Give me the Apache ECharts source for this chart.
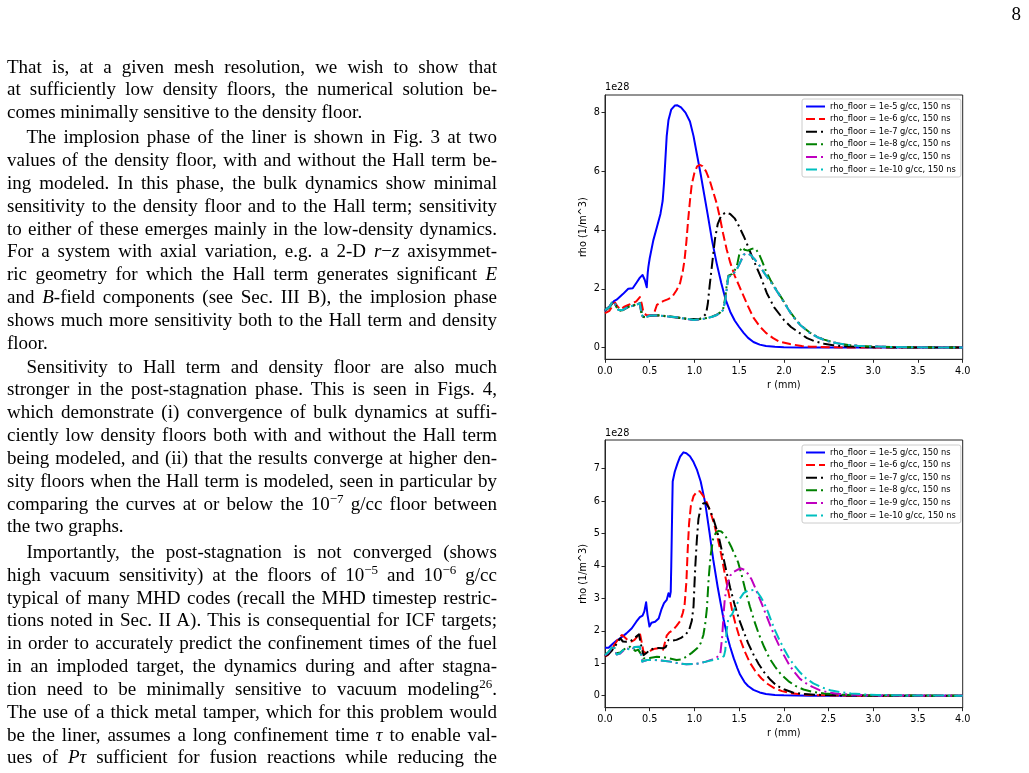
<!DOCTYPE html>
<html>
<head>
<meta charset="utf-8">
<script src="https://cdn.jsdelivr.net/npm/echarts@6/dist/echarts.min.js"></script>
<style>
html,body{margin:0;padding:0;background:#fff;}
#page{position:relative;width:1029px;height:773px;overflow:hidden;background:#fff;}
#chart{position:absolute;left:0;top:0;width:1029px;height:773px;z-index:1;}
#text{position:absolute;left:7px;top:55.5px;width:490px;z-index:2;font-family:'Liberation Serif','Times New Roman',serif;font-size:19px;line-height:22.85px;color:#000;}
.l{white-space:nowrap;text-align:justify;text-align-last:justify;height:22.85px;}
.e{text-align-last:left;}
.i{text-indent:19.5px;}
#pnum{position:absolute;right:8px;top:3px;z-index:2;font-family:'Liberation Serif','Times New Roman',serif;font-size:19px;color:#000;}
sup{font-size:13px;line-height:0;vertical-align:7px;}
</style>
</head>
<body>
<div id="page">
<div id="chart"></div>
<div id="pnum">8</div>
<div id="text">
<div class="l">That is, at a given mesh resolution, we wish to show that</div>
<div class="l">at sufficiently low density floors, the numerical solution be-</div>
<div class="l e">comes minimally sensitive to the density floor.</div>
<div class="l i" style="margin-top:2.1px">The implosion phase of the liner is shown in Fig. 3 at two</div>
<div class="l">values of the density floor, with and without the Hall term be-</div>
<div class="l">ing modeled. In this phase, the bulk dynamics show minimal</div>
<div class="l">sensitivity to the density floor and to the Hall term; sensitivity</div>
<div class="l">to either of these emerges mainly in the low-density dynamics.</div>
<div class="l">For a system with axial variation, e.g. a 2-D <i>r</i>−<i>z</i> axisymmet-</div>
<div class="l">ric geometry for which the Hall term generates significant <i>E</i></div>
<div class="l">and <i>B</i>-field components (see Sec. III B), the implosion phase</div>
<div class="l">shows much more sensitivity both to the Hall term and density</div>
<div class="l e">floor.</div>
<div class="l i" style="margin-top:1px">Sensitivity to Hall term and density floor are also much</div>
<div class="l">stronger in the post-stagnation phase. This is seen in Figs. 4,</div>
<div class="l">which demonstrate (i) convergence of bulk dynamics at suffi-</div>
<div class="l">ciently low density floors both with and without the Hall term</div>
<div class="l">being modeled, and (ii) that the results converge at higher den-</div>
<div class="l">sity floors when the Hall term is modeled, seen in particular by</div>
<div class="l">comparing the curves at or below the 10<sup>−7</sup> g/cc floor between</div>
<div class="l e">the two graphs.</div>
<div class="l i" style="margin-top:2.5px">Importantly, the post-stagnation is not converged (shows</div>
<div class="l">high vacuum sensitivity) at the floors of 10<sup>−5</sup> and 10<sup>−6</sup> g/cc</div>
<div class="l">typical of many MHD codes (recall the MHD timestep restric-</div>
<div class="l">tions noted in Sec. II A). This is consequential for ICF targets;</div>
<div class="l">in order to accurately predict the confinement times of the fuel</div>
<div class="l">in an imploded target, the dynamics during and after stagna-</div>
<div class="l">tion need to be minimally sensitive to vacuum modeling<sup>26</sup>.</div>
<div class="l">The use of a thick metal tamper, which for this problem would</div>
<div class="l">be the liner, assumes a long confinement time <i>τ</i> to enable val-</div>
<div class="l">ues of <i>Pτ</i> sufficient for fusion reactions while reducing the</div>
</div>
</div>
<script>
// ---------- DATA (r in mm, rho in units of 1e28 1/m^3) ----------
const seriesNames = [
  'rho_floor = 1e-5 g/cc, 150 ns',
  'rho_floor = 1e-6 g/cc, 150 ns',
  'rho_floor = 1e-7 g/cc, 150 ns',
  'rho_floor = 1e-8 g/cc, 150 ns',
  'rho_floor = 1e-9 g/cc, 150 ns',
  'rho_floor = 1e-10 g/cc, 150 ns'
];
const xTicks = [0, 0.5, 1, 1.5, 2, 2.5, 3, 3.5, 4];
const yTicksTop = [0, 2, 4, 6, 8];
const yTicksBottom = [0, 1, 2, 3, 4, 5, 6, 7];
const offsetText = '1e28';

// Top figure
const top1e5 = [[0,1.23],[0.05,1.4],[0.1,1.58],[0.13,1.63],[0.2,1.82],[0.26,2.0],[0.31,2.02],[0.35,2.2],[0.39,2.38],[0.42,2.47],[0.445,2.3],[0.467,2.05],[0.472,2.3],[0.478,2.55],[0.485,2.75],[0.5,3.04],[0.54,3.65],[0.58,4.1],[0.62,4.55],[0.645,5.0],[0.66,5.6],[0.675,6.4],[0.69,7.2],[0.71,7.75],[0.74,8.1],[0.78,8.24],[0.81,8.25],[0.85,8.18],[0.9,8.0],[0.95,7.7],[0.99,7.2],[1.03,6.55],[1.07,5.9],[1.11,5.2],[1.15,4.5],[1.2,3.6],[1.25,2.85],[1.3,2.2],[1.35,1.62],[1.4,1.22],[1.45,0.92],[1.5,0.7],[1.55,0.5],[1.6,0.33],[1.66,0.19],[1.73,0.1],[1.8,0.05],[1.9,0.025],[2.0,0.012],[2.2,0.004],[2.5,0],[3.0,0],[4.0,0]];
const top1e6 = [[0,1.17],[0.05,1.25],[0.09,1.45],[0.112,1.53],[0.14,1.4],[0.17,1.3],[0.21,1.38],[0.26,1.45],[0.3,1.5],[0.35,1.57],[0.39,1.72],[0.41,1.5],[0.43,1.2],[0.46,1.11],[0.5,1.1],[0.54,1.09],[0.56,1.15],[0.58,1.45],[0.6,1.51],[0.65,1.58],[0.7,1.64],[0.75,1.72],[0.8,1.95],[0.84,2.2],[0.87,2.6],[0.89,3.0],[0.91,3.6],[0.93,4.35],[0.95,5.0],[0.97,5.55],[1.0,5.95],[1.03,6.17],[1.06,6.22],[1.09,6.18],[1.13,6.0],[1.17,5.7],[1.21,5.3],[1.25,4.9],[1.29,4.35],[1.32,3.89],[1.36,3.35],[1.4,2.9],[1.45,2.45],[1.5,2.1],[1.55,1.75],[1.6,1.4],[1.66,1.02],[1.73,0.72],[1.8,0.5],[1.88,0.32],[1.95,0.2],[2.07,0.12],[2.2,0.05],[2.3,0.03],[2.5,0.01],[2.7,0.004],[3.0,0],[4.0,0]];
const top1e7 = [[0,1.28],[0.05,1.4],[0.09,1.55],[0.11,1.55],[0.14,1.35],[0.17,1.26],[0.21,1.3],[0.26,1.38],[0.3,1.42],[0.35,1.45],[0.39,1.5],[0.41,1.2],[0.42,1.06],[0.46,1.03],[0.5,1.08],[0.55,1.09],[0.62,1.09],[0.7,1.06],[0.8,1.02],[0.9,0.98],[1.0,0.97],[1.06,0.98],[1.1,1.05],[1.13,1.15],[1.15,1.5],[1.17,2.1],[1.2,2.9],[1.23,3.7],[1.26,4.2],[1.3,4.5],[1.35,4.6],[1.4,4.55],[1.45,4.4],[1.5,4.12],[1.55,3.8],[1.6,3.44],[1.65,3.05],[1.7,2.7],[1.74,2.42],[1.81,1.85],[1.89,1.38],[2.0,0.94],[2.08,0.7],[2.15,0.55],[2.26,0.32],[2.35,0.21],[2.45,0.13],[2.55,0.08],[2.65,0.05],[2.8,0.025],[3.0,0.01],[3.3,0.003],[4.0,0]];
const top1e8 = [[0,1.26],[0.05,1.36],[0.08,1.5],[0.1,1.55],[0.12,1.42],[0.15,1.27],[0.2,1.27],[0.24,1.35],[0.28,1.41],[0.32,1.44],[0.35,1.47],[0.39,1.52],[0.405,1.2],[0.42,1.05],[0.45,1.03],[0.5,1.08],[0.6,1.1],[0.7,1.07],[0.8,1.03],[0.9,0.99],[0.99,0.95],[1.07,0.97],[1.14,1.01],[1.2,1.06],[1.25,1.12],[1.29,1.2],[1.32,1.3],[1.345,1.7],[1.36,2.1],[1.38,2.45],[1.42,2.5],[1.45,2.62],[1.48,2.85],[1.51,3.3],[1.535,3.42],[1.56,3.33],[1.6,3.3],[1.64,3.36],[1.68,3.38],[1.72,3.2],[1.76,2.92],[1.8,2.6],[1.85,2.3],[1.91,2.0],[1.96,1.76],[2.02,1.47],[2.07,1.22],[2.13,0.97],[2.18,0.8],[2.24,0.63],[2.29,0.51],[2.37,0.37],[2.45,0.27],[2.54,0.19],[2.63,0.13],[2.72,0.09],[2.82,0.06],[3.0,0.035],[3.2,0.02],[3.4,0.01],[3.7,0.004],[4.0,0.002]];
const top1e9 = [[0,1.27],[0.05,1.38],[0.075,1.52],[0.1,1.56],[0.12,1.44],[0.15,1.28],[0.2,1.28],[0.24,1.35],[0.28,1.4],[0.32,1.43],[0.35,1.45],[0.39,1.51],[0.405,1.2],[0.42,1.06],[0.45,1.02],[0.5,1.09],[0.6,1.09],[0.7,1.06],[0.8,1.03],[0.9,0.98],[0.99,0.94],[1.07,0.96],[1.14,1.0],[1.2,1.05],[1.25,1.11],[1.29,1.18],[1.32,1.28],[1.345,1.6],[1.36,1.96],[1.38,2.42],[1.42,2.45],[1.44,2.53],[1.47,2.65],[1.49,2.76],[1.52,2.95],[1.55,3.16],[1.59,3.22],[1.63,3.15],[1.68,2.98],[1.73,2.78],[1.79,2.5],[1.85,2.25],[1.91,1.98],[1.96,1.74],[2.02,1.45],[2.07,1.2],[2.13,0.95],[2.18,0.78],[2.24,0.62],[2.29,0.5],[2.37,0.36],[2.45,0.26],[2.54,0.18],[2.63,0.13],[2.72,0.09],[2.82,0.06],[3.0,0.035],[3.2,0.02],[3.4,0.01],[3.7,0.004],[4.0,0.002]];
const top1e10 = [[0,1.28],[0.05,1.38],[0.075,1.53],[0.1,1.57],[0.12,1.45],[0.15,1.28],[0.2,1.28],[0.24,1.35],[0.28,1.4],[0.32,1.43],[0.35,1.45],[0.39,1.51],[0.405,1.2],[0.42,1.06],[0.45,1.02],[0.5,1.09],[0.6,1.09],[0.7,1.06],[0.8,1.03],[0.9,0.98],[0.99,0.94],[1.07,0.96],[1.14,1.0],[1.2,1.05],[1.25,1.11],[1.29,1.18],[1.32,1.28],[1.345,1.6],[1.36,1.96],[1.38,2.42],[1.42,2.45],[1.44,2.53],[1.47,2.65],[1.49,2.76],[1.52,2.95],[1.55,3.16],[1.59,3.21],[1.63,3.15],[1.68,2.98],[1.73,2.78],[1.79,2.5],[1.85,2.25],[1.91,1.98],[1.96,1.74],[2.02,1.45],[2.07,1.2],[2.13,0.95],[2.18,0.78],[2.24,0.62],[2.29,0.5],[2.37,0.36],[2.45,0.26],[2.54,0.18],[2.63,0.13],[2.72,0.09],[2.82,0.06],[3.0,0.035],[3.2,0.02],[3.4,0.01],[3.7,0.004],[4.0,0.002]];

// Bottom figure
const bot1e5 = [[0,1.48],[0.04,1.48],[0.09,1.61],[0.13,1.7],[0.17,1.77],[0.24,1.92],[0.3,2.08],[0.35,2.28],[0.39,2.42],[0.42,2.47],[0.44,2.6],[0.46,2.88],[0.475,2.5],[0.497,2.13],[0.52,2.25],[0.56,2.28],[0.6,2.38],[0.63,2.65],[0.66,2.85],[0.69,2.95],[0.71,3.16],[0.725,3.05],[0.735,3.2],[0.738,3.6],[0.741,4.0],[0.744,4.5],[0.747,5.0],[0.75,5.5],[0.753,6.0],[0.757,6.6],[0.78,6.9],[0.81,7.15],[0.84,7.37],[0.877,7.5],[0.91,7.47],[0.95,7.38],[0.99,7.2],[1.03,6.95],[1.07,6.6],[1.12,5.95],[1.17,5.0],[1.21,4.2],[1.26,3.35],[1.3,2.75],[1.33,2.3],[1.37,1.8],[1.4,1.5],[1.44,1.15],[1.48,0.85],[1.51,0.65],[1.56,0.42],[1.6,0.3],[1.66,0.18],[1.73,0.1],[1.8,0.055],[1.9,0.025],[2.0,0.01],[2.3,0.002],[2.6,0],[4,0]];
const bot1e6 = [[0,1.2],[0.03,1.25],[0.06,1.36],[0.1,1.55],[0.13,1.67],[0.16,1.8],[0.19,1.87],[0.22,1.8],[0.26,1.7],[0.3,1.67],[0.33,1.72],[0.36,1.82],[0.39,1.92],[0.41,1.65],[0.43,1.36],[0.47,1.3],[0.52,1.41],[0.56,1.45],[0.6,1.46],[0.65,1.42],[0.67,1.45],[0.69,1.85],[0.72,1.95],[0.76,2.02],[0.8,2.15],[0.84,2.3],[0.87,2.55],[0.89,2.8],[0.91,3.5],[0.925,4.5],[0.94,5.3],[0.96,5.85],[0.99,6.15],[1.03,6.3],[1.06,6.3],[1.1,6.15],[1.14,5.95],[1.18,5.65],[1.22,5.3],[1.26,4.85],[1.3,4.35],[1.34,3.75],[1.38,3.2],[1.42,2.65],[1.46,2.2],[1.51,1.75],[1.56,1.38],[1.62,1.02],[1.68,0.76],[1.75,0.53],[1.82,0.36],[1.9,0.22],[1.98,0.14],[2.07,0.08],[2.16,0.05],[2.3,0.02],[2.5,0.008],[2.8,0],[4,0]];
const bot1e7 = [[0,1.22],[0.04,1.28],[0.08,1.4],[0.11,1.51],[0.14,1.65],[0.17,1.77],[0.2,1.67],[0.24,1.66],[0.28,1.67],[0.32,1.75],[0.35,1.82],[0.38,1.89],[0.4,1.6],[0.43,1.25],[0.47,1.33],[0.5,1.41],[0.55,1.46],[0.6,1.47],[0.65,1.46],[0.68,1.5],[0.71,1.72],[0.76,1.7],[0.8,1.72],[0.85,1.78],[0.9,1.88],[0.94,2.02],[0.97,2.3],[0.99,2.75],[1.0,3.4],[1.01,4.0],[1.027,4.8],[1.045,5.45],[1.07,5.8],[1.1,5.93],[1.13,5.93],[1.16,5.8],[1.2,5.55],[1.24,5.2],[1.28,4.8],[1.32,4.3],[1.36,3.8],[1.4,3.32],[1.45,2.8],[1.5,2.35],[1.55,1.98],[1.6,1.62],[1.66,1.27],[1.72,0.97],[1.78,0.72],[1.85,0.49],[1.92,0.31],[2.0,0.2],[2.1,0.1],[2.2,0.06],[2.35,0.03],[2.6,0.01],[3.0,0],[4,0]];
const bot1e8 = [[0,1.25],[0.04,1.35],[0.07,1.45],[0.09,1.56],[0.11,1.45],[0.13,1.31],[0.17,1.33],[0.2,1.4],[0.24,1.48],[0.28,1.51],[0.31,1.45],[0.34,1.38],[0.37,1.42],[0.39,1.46],[0.41,1.25],[0.43,1.15],[0.5,1.16],[0.58,1.2],[0.65,1.19],[0.72,1.15],[0.8,1.1],[0.86,1.12],[0.91,1.2],[0.97,1.32],[1.03,1.46],[1.07,1.62],[1.1,1.87],[1.12,2.2],[1.14,2.7],[1.158,3.57],[1.18,4.3],[1.21,4.85],[1.24,5.02],[1.27,5.08],[1.3,5.06],[1.33,4.98],[1.37,4.82],[1.41,4.6],[1.45,4.35],[1.49,4.1],[1.53,3.7],[1.57,3.25],[1.62,2.75],[1.67,2.3],[1.72,1.9],[1.78,1.5],[1.84,1.15],[1.9,0.9],[1.97,0.65],[2.05,0.45],[2.13,0.3],[2.22,0.19],[2.32,0.12],[2.45,0.07],[2.6,0.035],[2.8,0.015],[3.1,0.005],[4,0]];
const bot1e9 = [[0,1.24],[0.04,1.33],[0.07,1.45],[0.09,1.56],[0.11,1.42],[0.13,1.27],[0.17,1.3],[0.2,1.38],[0.24,1.46],[0.27,1.44],[0.3,1.41],[0.33,1.5],[0.35,1.56],[0.39,1.51],[0.405,1.25],[0.42,1.05],[0.47,1.1],[0.55,1.1],[0.65,1.08],[0.73,1.05],[0.82,1.0],[0.91,0.97],[1.0,0.98],[1.06,1.0],[1.13,1.05],[1.2,1.12],[1.25,1.18],[1.29,1.3],[1.31,1.8],[1.326,2.5],[1.34,3.0],[1.37,3.45],[1.4,3.7],[1.44,3.82],[1.48,3.88],[1.52,3.92],[1.56,3.88],[1.6,3.75],[1.64,3.58],[1.68,3.32],[1.72,3.05],[1.76,2.78],[1.8,2.5],[1.85,2.15],[1.9,1.82],[1.95,1.52],[2.0,1.25],[2.06,0.95],[2.12,0.72],[2.18,0.52],[2.25,0.38],[2.32,0.27],[2.4,0.17],[2.5,0.1],[2.6,0.06],[2.75,0.03],[3.0,0.01],[3.4,0.003],[4,0]];
const bot1e10 = [[0,1.25],[0.04,1.35],[0.07,1.46],[0.09,1.56],[0.11,1.42],[0.13,1.27],[0.17,1.31],[0.2,1.4],[0.24,1.46],[0.27,1.43],[0.3,1.41],[0.33,1.5],[0.35,1.56],[0.39,1.51],[0.405,1.25],[0.415,1.05],[0.47,1.1],[0.58,1.1],[0.73,1.05],[0.82,1.0],[0.91,0.97],[1.0,0.98],[1.06,1.0],[1.13,1.05],[1.21,1.1],[1.29,1.15],[1.33,1.22],[1.345,1.4],[1.36,2.0],[1.38,2.4],[1.42,2.5],[1.45,2.7],[1.48,2.85],[1.51,3.0],[1.55,3.16],[1.6,3.24],[1.66,3.26],[1.7,3.21],[1.74,3.05],[1.78,2.85],[1.82,2.6],[1.86,2.3],[1.9,2.02],[1.95,1.72],[2.0,1.45],[2.06,1.15],[2.12,0.92],[2.18,0.72],[2.25,0.53],[2.33,0.38],[2.42,0.26],[2.52,0.17],[2.63,0.11],[2.75,0.07],[2.9,0.04],[3.04,0.025],[3.3,0.01],[3.6,0.004],[4,0.001]];

const topData = [top1e5, top1e6, top1e7, top1e8, top1e9, top1e10];
const botData = [bot1e5, bot1e6, bot1e7, bot1e8, bot1e9, bot1e10];

// ---------- STYLE ----------
const colors = ['#0000ff', '#ff0000', '#000000', '#008000', '#bf00bf', '#00bfbf'];
const dashDot = [11, 4, 2, 4];
const lineTypes = ['solid', [9, 4], dashDot, dashDot, dashDot, dashDot];
const FONT = 'DejaVu Sans';
const frameColor = '#262626';

function makeX(gi) {
  return {
    gridIndex: gi, type: 'value', min: 0, max: 4, interval: 0.5,
    name: 'r (mm)', nameLocation: 'middle', nameGap: 21,
    nameTextStyle: {fontFamily: FONT, fontSize: 9.7, color: '#000'},
    axisLine: {show: true, onZero: false, lineStyle: {color: frameColor, width: 1}},
    axisTick: {show: true, inside: false, length: 3.5, lineStyle: {color: frameColor, width: 1}},
    axisLabel: {fontFamily: FONT, fontSize: 9.7, color: '#000', margin: 7,
      formatter: v => v.toFixed(1), customValues: xTicks},
    splitLine: {show: false}
  };
}
function makeY(gi, min, max, ticks) {
  return {
    gridIndex: gi, type: 'value', min: min, max: max,
    name: 'rho (1/m^3)', nameLocation: 'middle', nameGap: 17, nameRotate: 90,
    nameTextStyle: {fontFamily: FONT, fontSize: 9.7, color: '#000'},
    axisLine: {show: true, onZero: false, lineStyle: {color: frameColor, width: 1}},
    axisTick: {show: true, inside: false, length: 3.5, customValues: ticks, lineStyle: {color: frameColor, width: 1}},
    axisLabel: {fontFamily: FONT, fontSize: 9.7, color: '#000', margin: 5,
      customValues: ticks, formatter: v => String(Math.round(v))},
    splitLine: {show: false}
  };
}
function makeSeries(dataSets, gi) {
  return dataSets.map((d, i) => ({
    name: seriesNames[i], type: 'line', xAxisIndex: gi, yAxisIndex: gi,
    data: d, showSymbol: false, symbol: 'none',
    smooth: false,
    lineStyle: {color: colors[i], width: 2, type: lineTypes[i], join: 'round'},
    itemStyle: {color: colors[i]},
    emphasis: {disabled: true}, silent: true, z: 2 + i
  }));
}
function makeLegend(top) {
  return {
    orient: 'vertical', left: 802, top: top,
    data: seriesNames,
    itemWidth: 19, itemHeight: 9, itemGap: 3.6,
    padding: [3, 5, 3, 3],
    backgroundColor: '#fff', borderColor: '#cccccc', borderWidth: 1, borderRadius: 2,
    itemStyle: {opacity: 0, borderWidth: 0},
    lineStyle: {width: 2},
    textStyle: {fontFamily: FONT, fontSize: 8.3, color: '#000', lineHeight: 9},
    selectedMode: false
  };
}

const chart = echarts.init(document.getElementById('chart'), null, {renderer: 'canvas'});
chart.setOption({
  animation: false,
  backgroundColor: 'transparent',
  grid: [
    {left: 605, top: 95, width: 357.7, height: 264.3, show: true, borderColor: frameColor, borderWidth: 1, containLabel: false},
    {left: 605, top: 440, width: 357.7, height: 267.7, show: true, borderColor: frameColor, borderWidth: 1, containLabel: false}
  ],
  xAxis: [makeX(0), makeX(1)],
  yAxis: [makeY(0, -0.4, 8.6, yTicksTop), makeY(1, -0.37, 7.88, yTicksBottom)],
  legend: [makeLegend(99), makeLegend(445)],
  graphic: [
    {type: 'text', left: 605, top: 82, style: {text: offsetText, font: '9.7px "DejaVu Sans"', fill: '#000'}},
    {type: 'text', left: 605, top: 428, style: {text: offsetText, font: '9.7px "DejaVu Sans"', fill: '#000'}}
  ],
  series: [].concat(makeSeries(topData, 0), makeSeries(botData, 1))
});

// fit justified lines that would overflow the column
document.querySelectorAll('#text .l').forEach(el => {
  let ws = 0;
  while (el.scrollWidth > el.clientWidth + 0.5 && ws > -4) {
    ws -= 0.25;
    el.style.wordSpacing = ws + 'px';
  }
});
</script>
</body>
</html>
